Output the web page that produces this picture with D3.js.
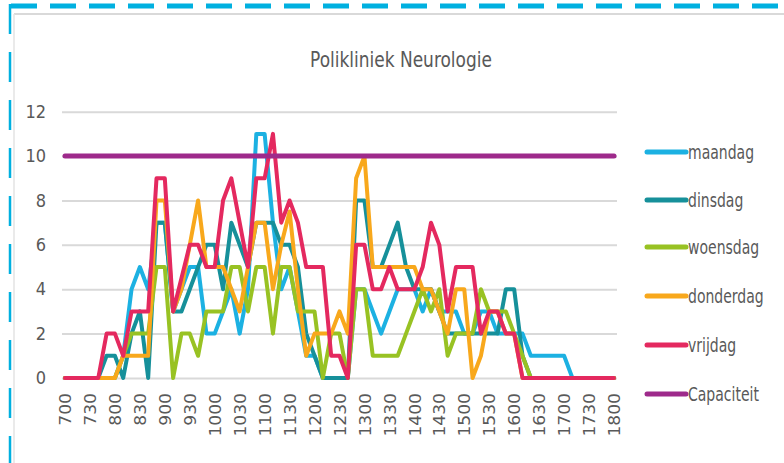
<!DOCTYPE html>
<html><head><meta charset="utf-8">
<script src="https://cdn.jsdelivr.net/npm/d3@7"></script>
<style>
html,body{margin:0;padding:0;background:#fff;}
svg{display:block;}
text{font-family:"Liberation Sans Narrow","DejaVu Sans Condensed","Liberation Sans",sans-serif;fill:#595959;}
</style></head>
<body>
<svg id="chart" width="784" height="463"></svg>
<script>
const title = "Polikliniek Neurologie";
const categories = ["700","710","720","730","740","750","800","810","820","830","840","850",
"900","910","920","930","940","950","1000","1010","1020","1030","1040","1050",
"1100","1110","1120","1130","1140","1150","1200","1210","1220","1230","1240","1250",
"1300","1310","1320","1330","1340","1350","1400","1410","1420","1430","1440","1450",
"1500","1510","1520","1530","1540","1550","1600","1610","1620","1630","1640","1650",
"1700","1710","1720","1730","1740","1750","1800"];
const tickLabels = ["700","730","800","830","900","930","1000","1030","1100","1130","1200","1230",
"1300","1330","1400","1430","1500","1530","1600","1630","1700","1730","1800"];
const yTicks = [0,2,4,6,8,10,12];
const seriesNames = ["maandag","dinsdag","woensdag","donderdag","vrijdag","Capaciteit"];
const seriesColors = ["#1cb1e2","#16909a","#98c223","#f8a81c","#e4295f","#9e2a8b"];

const maandag = [0,0,0,0,0,0,0,1,4,5,4,7,7,3,4,5,5,2,2,3,4,2,4,11,11,7,4,5,3,1,1,0,0,0,0,4,4,3,2,3,4,4,4,3,4,3,3,3,2,2,3,3,2,2,2,2,1,1,1,1,1,0,0,0,0,0,0];
const dinsdag = [0,0,0,0,0,1,1,0,2,3,0,7,7,3,3,4,5,6,6,4,7,6,5,7,7,7,6,6,5,2,1,0,0,0,0,8,8,5,5,6,7,5,4,4,4,3,2,2,2,2,2,2,2,4,4,1,0,0,0,0,0,0,0,0,0,0,0];
const woensdag = [0,0,0,0,0,0,0,1,2,2,2,5,5,0,2,2,1,3,3,3,5,5,3,5,5,2,5,5,3,3,3,0,2,2,0,4,4,1,1,1,1,2,3,4,3,4,1,2,2,2,4,3,3,3,2,1,0,0,0,0,0,0,0,0,0,0,0];
const donderdag = [0,0,0,0,0,0,0,1,1,1,1,8,8,3,4,6,8,5,5,5,4,3,5,7,7,4,6,7.5,4,1,2,2,2,3,2,9,10,5,5,5,5,5,5,4,4,3,2,4,4,0,1,3,3,2,2,0,0,0,0,0,0,0,0,0,0,0,0];
const vrijdag = [0,0,0,0,0,2,2,1,3,3,3,9,9,3,4.5,6,6,5,5,8,9,7,5,9,9,11,7,8,7,5,5,5,1,1,0,6,6,4,4,5,4,4,4,5,7,6,3,5,5,5,2,3,3,2,2,0,0,0,0,0,0,0,0,0,0,0,0];
const capaciteit = [10,10,10,10,10,10,10,10,10,10,10,10,10,10,10,10,10,10,10,10,10,10,10,10,10,10,10,10,10,10,10,10,10,10,10,10,10,10,10,10,10,10,10,10,10,10,10,10,10,10,10,10,10,10,10,10,10,10,10,10,10,10,10,10,10,10,10];
const seriesValues = [maandag,dinsdag,woensdag,donderdag,vrijdag,capaciteit];

const svg = d3.select("#chart");

// frame decorations
svg.append("line").attr("x1",14).attr("x2",784).attr("y1",14).attr("y2",14)
  .attr("stroke","#d9d9d9").attr("stroke-width",2);
svg.append("line").attr("x1",14).attr("x2",14).attr("y1",14).attr("y2",463)
  .attr("stroke","#e3e3e3").attr("stroke-width",1.5);
svg.append("line").attr("x1",11).attr("x2",784).attr("y1",6).attr("y2",6)
  .attr("stroke","#00b0e0").attr("stroke-width",5).attr("stroke-dasharray","26,13");
svg.append("line").attr("x1",10).attr("x2",10).attr("y1",4).attr("y2",463)
  .attr("stroke","#00b0e0").attr("stroke-width",2.5).attr("stroke-dasharray","30,18");

// title
svg.append("text").attr("transform","translate(401,67) scale(0.9,1.05)")
  .attr("text-anchor","middle").style("font-size","21px").text(title);

const x = d3.scalePoint().domain(categories).range([65,614]);
const y = d3.scaleLinear().domain([0,12]).range([378,111.7]);

// gridlines + y axis
const yAxis = d3.axisLeft(y).tickValues(yTicks).tickSize(-(617-62)).tickPadding(16);
const gy = svg.append("g").attr("transform","translate(62,0)").call(yAxis);
gy.select(".domain").remove();
gy.selectAll(".tick line").attr("stroke","#d9d9d9").attr("stroke-width",2);
gy.selectAll(".tick text").style("font-size","18px").attr("fill","#595959")
  .style("font-family",'"Liberation Sans Narrow","DejaVu Sans Condensed",sans-serif');

// x axis labels
const xAxis = d3.axisBottom(x).tickValues(tickLabels).tickSize(0).tickPadding(0);
const gx = svg.append("g").attr("transform","translate(0,378)").call(xAxis);
gx.select(".domain").remove();
gx.selectAll(".tick text")
  .attr("transform","translate(0,15) rotate(-90) scale(1.12,0.95)")
  .attr("text-anchor","end").attr("dy","0.35em").attr("y",0).attr("x",0)
  .attr("fill","#595959")
  .style("font-size","17px")
  .style("font-family",'"Liberation Sans Narrow","DejaVu Sans Condensed",sans-serif');

// series lines
const line = d3.line().x((d,i)=>x(categories[i])).y(d=>y(d));
seriesValues.forEach((vals,k)=>{
  svg.append("path").datum(vals).attr("d",line)
    .attr("fill","none").attr("stroke",seriesColors[k])
    .attr("stroke-width", k===5?5:4)
    .attr("stroke-linejoin","round").attr("stroke-linecap","round");
});

// legend
const legendY = [152,200,247,296,345,394];
seriesNames.forEach((n,k)=>{
  svg.append("line").attr("x1",647).attr("x2",686).attr("y1",legendY[k]).attr("y2",legendY[k])
    .attr("stroke",seriesColors[k]).attr("stroke-width",5).attr("stroke-linecap","round");
  svg.append("text").attr("transform",`translate(688,${legendY[k]}) scale(0.82,1.05)`)
    .attr("dy","0.35em").style("font-size","19px").text(n);
});
</script>
</body></html>
